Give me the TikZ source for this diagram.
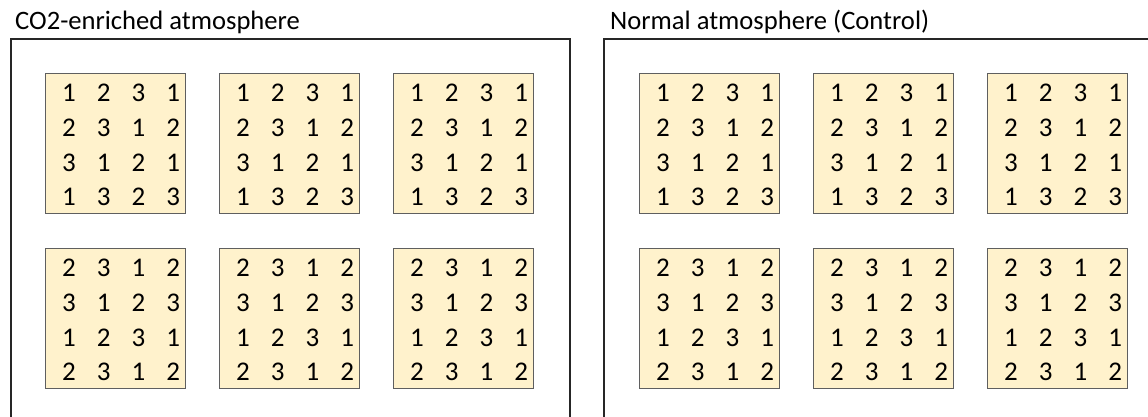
\documentclass[tikz,border=0pt]{standalone}
\usepackage{fontspec}
\setmainfont{Carlito}
\usepackage{xcolor}
\usetikzlibrary{positioning, calc}
\definecolor{plotfill}{HTML}{FFF2CC}
\definecolor{plotline}{HTML}{5F5F5F}

% one plot: name, left, top, rows of treatment codes
\newcommand{\plotbox}[4]{%
  \node[plot] (#1) at (#2,#3) {};
  \foreach \da/\db/\dc/\dd [count=\i] in {#4} {
    \foreach \v [count=\j] in {\da,\db,\dc,\dd} {
      \node[cell] (#1-\i-\j) at ($(#1.north west)+({24+34.7*(\j-1)},{20+34.7*(\i-1)})$) {\v};
    }
  }
}

\begin{document}
\begin{tikzpicture}[
    x=1pt, y=-1pt,
    frame/.style={draw=black!85, line width=1.8pt, minimum width=559pt,
                  minimum height=420pt, inner sep=0pt, anchor=north west},
    heading/.style={anchor=base west, inner sep=0pt,
                    font=\fontsize{26.6}{30}\selectfont},
    plot/.style={draw=plotline, line width=1.2pt, fill=plotfill,
                 minimum width=140pt, minimum height=140pt,
                 inner sep=0pt, anchor=north west},
    cell/.style={inner sep=0pt, anchor=center, font=\fontsize{27}{30}\selectfont},
]
\useasboundingbox (0,0) rectangle (1148,417);
\clip (0,0) rectangle (1148,417);

% Two chambers
\node[frame] (co2) at (10,38) {};
\node[frame] (ctrl) at (603,38) {};
\node[heading] (co2title) at (15,30) {CO2-enriched atmosphere};
\node[heading] (ctrltitle) at (610,30) {Normal atmosphere (Control)};

% Plots in each chamber
\foreach \n/\x in {a1/45, a2/219, a3/393, b1/639, b2/813, b3/987} {
  \plotbox{\n-top}{\x}{73}{1/2/3/1, 2/3/1/2, 3/1/2/1, 1/3/2/3}
  \plotbox{\n-bot}{\x}{248}{2/3/1/2, 3/1/2/3, 1/2/3/1, 2/3/1/2}
}

\end{tikzpicture}
\end{document}
